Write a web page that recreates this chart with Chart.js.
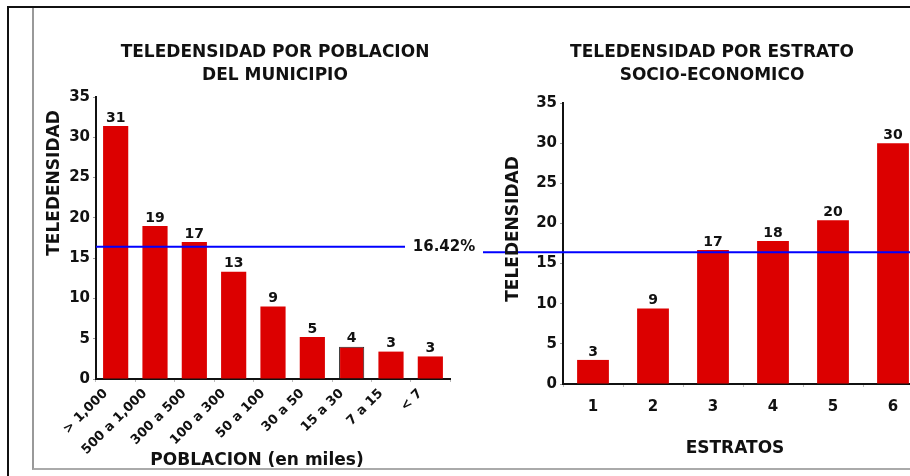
<!DOCTYPE html>
<html>
<head>
<meta charset="utf-8">
<script src="https://cdn.jsdelivr.net/npm/chart.js@4.4.1/dist/chart.umd.min.js"></script>
<style>
  html, body { margin:0; padding:0; background:#fff; overflow:hidden; }
  body { width:910px; height:476px; position:relative; }
  #marco { position:absolute; left:7px; top:6px; width:1000px; height:600px; border-left:2px solid #111; border-top:2px solid #111; }
  #interior { position:absolute; left:32px; top:8px; width:1000px; height:460px; border-left:2px solid #999; border-bottom:2px solid #aaa; }
  #cPob { position:absolute; left:34px; top:10px; }
  #cEst { position:absolute; left:480px; top:10px; }
</style>
</head>
<body>
<div id="marco"></div>
<div id="interior"></div>
<canvas id="cPob" width="446" height="458"></canvas>
<canvas id="cEst" width="460" height="458"></canvas>
<script>
// Teledensidad - dos graficos de barras
const FUENTE = '"DejaVu Sans", Arial, sans-serif';

const poblacionLabels = ['> 1,000', '500 a 1,000', '300 a 500', '100 a 300', '50 a 100', '30 a 50', '15 a 30', '7 a 15', '< 7'];
const poblacionValores = [31.4, 19.0, 17.0, 13.3, 9.0, 5.2, 4.0, 3.4, 2.8];

const estratoLabels = ['1', '2', '3', '4', '5', '6'];
const estratoValores = [3.0, 9.4, 16.7, 17.8, 20.4, 30.0];

const promedio = 16.42;
const yMin = 0, yMax = 35, yPaso = 5;

const tituloPob = ['TELEDENSIDAD POR POBLACION', 'DEL MUNICIPIO'];
const tituloEst = ['TELEDENSIDAD POR ESTRATO', 'SOCIO-ECONOMICO'];
const ejeY = 'TELEDENSIDAD';
const ejeXPob = 'POBLACION (en miles)';
const ejeXEst = 'ESTRATOS';

const ROJO = '#dc0000';
const AZUL = '#0000ff';
const TEXTO = '#111';

// etiquetas, linea de promedio y titulos
const textosPlugin = {
  id: 'textos',
  afterDatasetsDraw(chart, args, o){
    const ctx = chart.ctx;
    const area = chart.chartArea;
    ctx.save();
    ctx.fillStyle = TEXTO;

    // valores sobre las barras
    ctx.font = 'bold 14px ' + FUENTE;
    ctx.textAlign = 'center';
    ctx.textBaseline = 'bottom';
    const datos = chart.data.datasets[0].data;
    chart.getDatasetMeta(0).data.forEach((bar, i) => {
      ctx.fillText(String(Math.round(datos[i])), bar.x, bar.y - 1);
    });

    // linea del promedio
    const y = chart.scales.y.getPixelForValue(promedio);
    const desde = o.lineaDesde == null ? area.left : o.lineaDesde;
    ctx.strokeStyle = AZUL;
    ctx.lineWidth = 2;
    ctx.beginPath();
    ctx.moveTo(desde, y);
    ctx.lineTo(o.lineaHasta, y);
    ctx.stroke();
    if(o.promedioX){
      ctx.font = 'bold 15px ' + FUENTE;
      ctx.textAlign = 'center';
      ctx.textBaseline = 'middle';
      ctx.fillText(promedio.toFixed(2) + '%', o.promedioX, y);
    }

    // titulo del grafico
    ctx.font = 'bold 17px ' + FUENTE;
    ctx.textAlign = 'center';
    ctx.textBaseline = 'middle';
    o.titulo.forEach((t, i) => ctx.fillText(t, o.tituloX, o.tituloY + i * 22.5));

    // titulo eje x
    ctx.fillText(o.ejeX, o.ejeXPos[0], o.ejeXPos[1]);

    // titulo eje y
    ctx.translate(o.ejeYPos[0], o.ejeYPos[1]);
    ctx.rotate(-Math.PI / 2);
    ctx.fillText(ejeY, 0, 0);
    ctx.restore();
  }
};

function ejes(anchoY, altoX, rotar, tamX){
  return {
    x: {
      ticks: {
        color: TEXTO, autoSkip: false,
        font: { family: FUENTE, size: tamX, weight: 'bold' },
        minRotation: rotar, maxRotation: rotar,
        padding: rotar ? 4 : 11,
        labelOffset: rotar ? -10 : 0
      },
      grid: { drawOnChartArea: false, tickLength: 3, color: '#bbb' },
      border: { color: TEXTO, width: 2 },
      afterFit(s){ s.height = altoX; }
    },
    y: {
      min: yMin, max: yMax,
      ticks: { stepSize: yPaso, color: TEXTO, padding: 3, font: { family: FUENTE, size: 15, weight: 'bold' } },
      grid: { drawOnChartArea: false, tickLength: 3, color: '#999' },
      border: { color: TEXTO, width: 2 },
      afterFit(s){ s.width = anchoY; }
    }
  };
}

new Chart(document.getElementById('cPob'), {
  type: 'bar',
  data: {
    labels: poblacionLabels,
    datasets: [{
      data: poblacionValores,
      backgroundColor: ROJO,
      borderColor: poblacionValores.map((v, i) => i === 6 ? '#222' : ROJO),
      borderWidth: poblacionValores.map((v, i) => i === 6 ? 1 : 0),
      barPercentage: 0.64,
      categoryPercentage: 1
    }]
  },
  options: {
    responsive: false,
    animation: false,
    layout: { padding: { top: 87, right: 30, left: 0, bottom: 0 } },
    scales: ejes(62, 89, 45, 13),
    plugins: {
      legend: { display: false },
      tooltip: { enabled: false },
      textos: {
        lineaDesde: null, lineaHasta: 371, promedioX: 410,
        titulo: tituloPob, tituloX: 241, tituloY: 43,
        ejeX: ejeXPob, ejeXPos: [223, 451],
        ejeYPos: [21, 173]
      }
    }
  },
  plugins: [textosPlugin]
});

new Chart(document.getElementById('cEst'), {
  type: 'bar',
  data: {
    labels: estratoLabels,
    datasets: [{
      data: estratoValores,
      backgroundColor: ROJO,
      borderWidth: 0,
      barPercentage: 0.53,
      categoryPercentage: 1
    }]
  },
  options: {
    responsive: false,
    animation: false,
    layout: { padding: { top: 93, right: 17, left: 0, bottom: 0 } },
    scales: ejes(83, 84, 0, 15),
    plugins: {
      legend: { display: false },
      tooltip: { enabled: false },
      textos: {
        lineaDesde: 3, lineaHasta: 460, promedioX: 0,
        titulo: tituloEst, tituloX: 232, tituloY: 43,
        ejeX: ejeXEst, ejeXPos: [255, 439],
        ejeYPos: [34, 219]
      }
    }
  },
  plugins: [textosPlugin]
});
</script>
</body>
</html>
